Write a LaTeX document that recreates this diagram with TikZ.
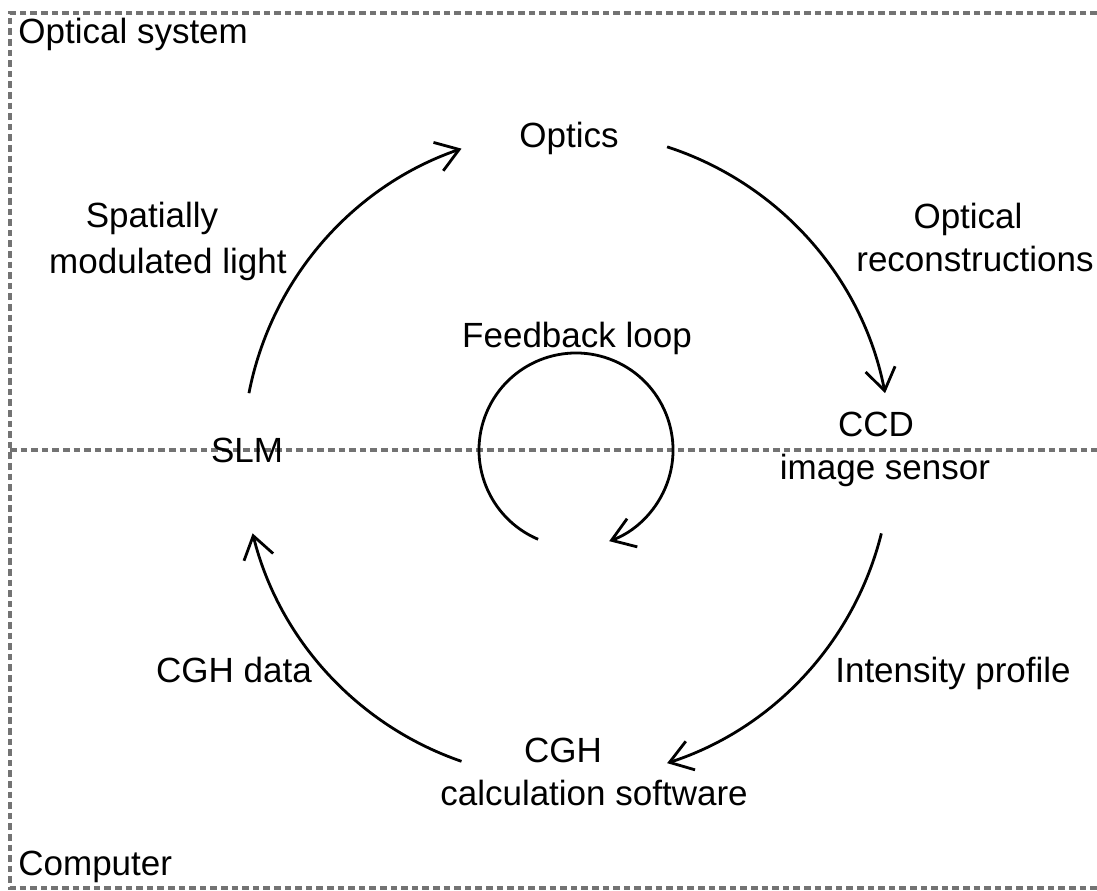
\documentclass[tikz,border=0pt]{standalone}
\usepackage{fontspec}
\setmainfont{Liberation Sans}
\usetikzlibrary{arrows.meta,calc}
\begin{document}
\begin{tikzpicture}[x=0.5pt,y=0.5pt,
  lbl/.style={inner sep=0pt,font=\fontsize{17.5}{21}\selectfont},
  flow/.style={line width=1.4pt,-{Straight Barb[length=11pt,width=15pt]}},
  zone/.style={draw=black!55,line width=1.7pt,dash pattern=on 3.3pt off 2pt}]
\useasboundingbox (0,0) rectangle (1097,890);

% region borders: optical system (top) and computer (bottom)
\draw[zone] (1097,877) -- (10,877) -- (10,2) -- (1097,2);
\draw[zone] (10,440) -- (1097,440);

\node[lbl,anchor=base west] (sys) at (18,846) {Optical system};
\node[lbl,anchor=base west] (pc) at (18,15) {Computer};

% stations of the loop
\node[lbl,anchor=base] (optics) at (569,742) {Optics};
\node[lbl,anchor=base] (slm) at (247,428) {SLM};
\node[lbl,anchor=base] (ccd) at (876,453) {CCD};
\node[lbl,anchor=base] (ccd2) at (885,410) {image sensor};
\node[lbl,anchor=base] (cgh) at (563,128) {CGH};
\node[lbl,anchor=base] (cgh2) at (594,85) {calculation software};

% labels of the transfers
\node[lbl,anchor=base] (sml1) at (152,662) {Spatially};
\node[lbl,anchor=base east] (sml2) at (287,616) {modulated light};
\node[lbl,anchor=base] (rec1) at (968,661) {Optical};
\node[lbl,anchor=base] (rec2) at (975,618) {reconstructions};
\node[lbl,anchor=base] (int) at (953,208) {Intensity profile};
\node[lbl,anchor=base] (dat) at (234,208) {CGH data};
\node[lbl,anchor=base] (fb) at (577,542) {Feedback loop};

% main cycle, drawn clockwise around the centre
\coordinate (c) at (567,435);
\draw[flow] ($(c)+(169:324)$) arc[start angle=169,end angle=109,radius=324];
\draw[flow] ($(c)+(72:324)$) arc[start angle=72,end angle=11,radius=324];
\draw[flow] ($(c)+(-14:324)$) arc[start angle=-14,end angle=-72,radius=324];
\draw[flow] ($(c)+(251:324)$) arc[start angle=251,end angle=194,radius=324];

% feedback loop
\coordinate (f) at (576,440);
\draw[flow] ($(f)+(247:97)$) arc[start angle=247,end angle=-70,radius=97];
\end{tikzpicture}
\end{document}
